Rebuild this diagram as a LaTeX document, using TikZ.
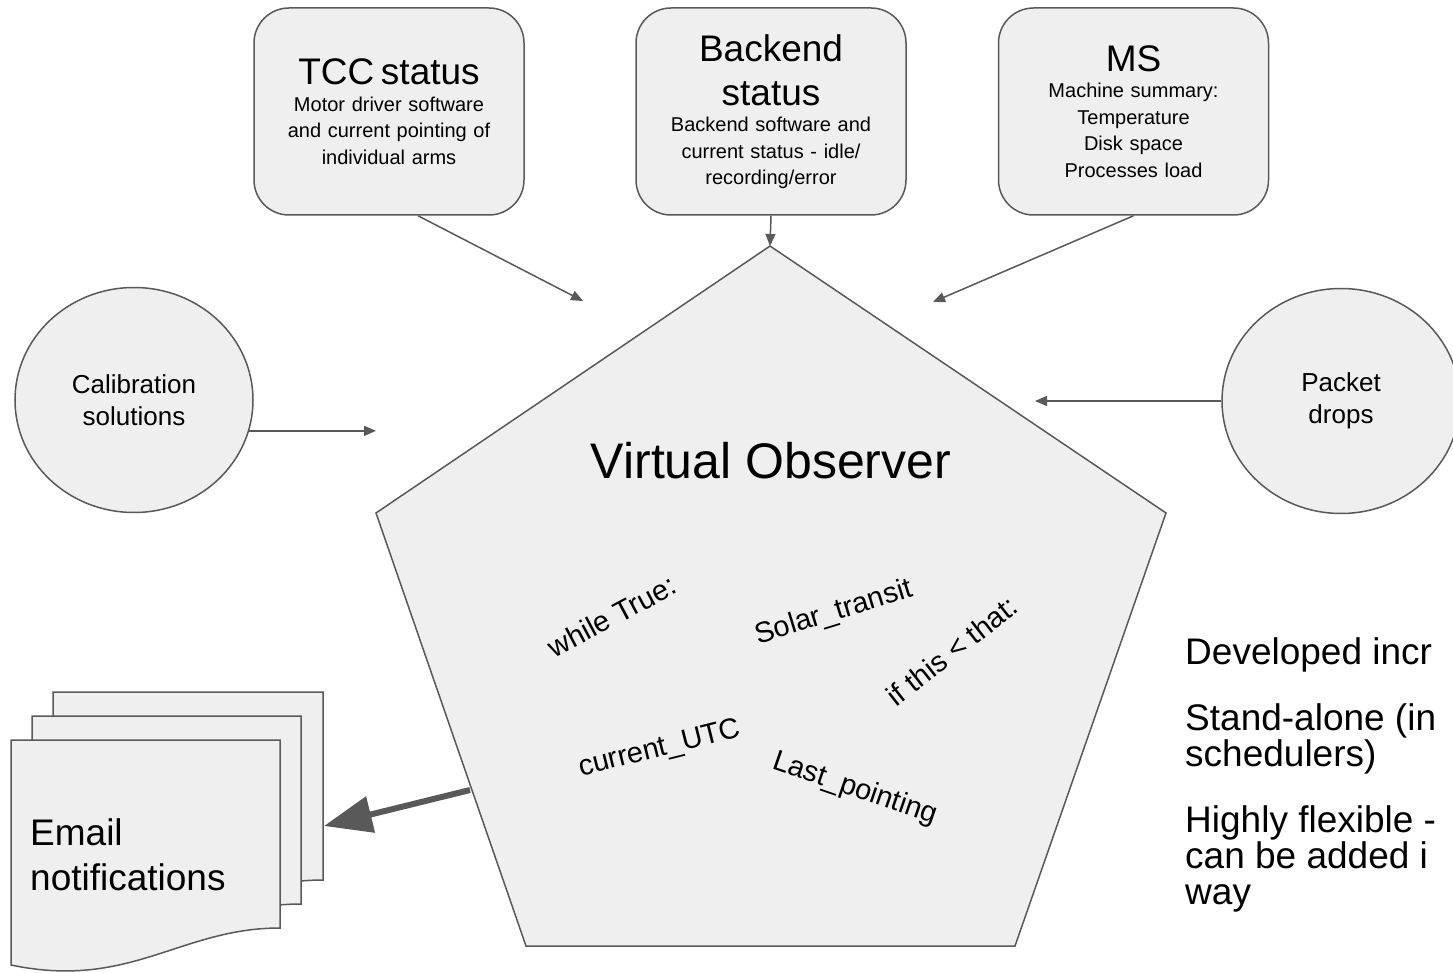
\documentclass[tikz,border=0pt]{standalone}
\usepackage{fontspec}
\setmainfont{Liberation Sans}
\usetikzlibrary{arrows.meta,shapes.geometric}

\definecolor{rim}{HTML}{595959}
\definecolor{pane}{HTML}{EFEFEF}

\newcommand{\boxtitle}[1]{{\fontsize{37}{44}\selectfont #1\par}}

\tikzset{
  box/.style={draw=rim, fill=pane, line width=1.5pt, rounded corners=35pt,
    minimum width=270pt, minimum height=207pt, text width=262pt, inner sep=0pt,
    align=center, font=\fontsize{20}{26.5}\selectfont},
  bubble/.style={ellipse, draw=rim, fill=pane, line width=1.5pt,
    minimum width=238pt, minimum height=225pt, align=center,
    font=\fontsize{26}{32}\selectfont},
  pad/.style={draw=rim, fill=pane, line width=1.5pt, line join=miter},
  sheet/.style={draw=rim, fill=pane, line width=1.5pt},
  link/.style={draw=rim, line width=1.5pt, -{Triangle[length=12pt,width=10pt]}},
  mailto/.style={draw=rim, line width=6pt, -{Triangle[length=48pt,width=36pt]}},
  code/.style={font=\fontsize{29}{33}\selectfont, inner sep=0pt},
}

\begin{document}
\begin{tikzpicture}[x=1pt, y=-1pt]
    \useasboundingbox (0,0) rectangle (1453,973);

    % status boxes
    \node[box] (tcc) at (389,111.5) {\boxtitle{TCC status}Motor driver software\\and current pointing of\\individual arms}; %TCC
    \node[box] (backend) at (771,111.5) {\boxtitle{Backend\\status}Backend software and\\current status - idle/\\recording/error\par\vspace{-6pt}}; %backend
    \node[box] (ms) at (1133.5,111.5) {\boxtitle{MS}Machine summary:\\Temperature\\Disk space\\Processes load\par\vspace{-4pt}}; %MS

    \node[bubble] (calib) at (134,400) {Calibration\\solutions};
    \node[bubble] (packet) at (1341,401) {Packet\\drops};

    % the observer
    \coordinate (pTop) at (770,246);
    \coordinate (pR) at (1166,513);
    \coordinate (pBR) at (1015,946);
    \coordinate (pBL) at (526,946);
    \coordinate (pL) at (376,513);
    \draw[pad] (pTop) -- (pR) -- (pBR) -- (pBL) -- (pL) -- cycle;
    \node[font=\fontsize{50}{60}\selectfont] (vo) at (771,461) {Virtual Observer};

    \node[code, rotate=28] (whileT) at (612,616) {while True:};
    \node[code, rotate=17] (solar) at (834,613) {Solar\_transit};
    \node[code, rotate=38] (ifthis) at (952,651) {if this < that:};
    \node[code, rotate=14] (utc) at (660,749) {current\_UTC};
    \node[code, rotate=-19] (lastp) at (855,789) {Last\_pointing};

    % email stack
    \draw[sheet] (53,692) -- (323,692) -- (323,880) .. controls (223,880) and (173,942) .. (53,917) -- cycle;
    \draw[sheet] (32,716) -- (301,716) -- (301,904) .. controls (201,904) and (151,966) .. (32,941) -- cycle;
    \draw[sheet] (11,740) -- (280,740) -- (280,928) .. controls (180,928) and (130,990) .. (11,965) -- cycle;
    \node[anchor=north west, inner sep=0pt, align=left, font=\fontsize{37}{45}\selectfont] (mail) at (30,818) {Email\\notifications};

    % connectors
    \coordinate (tccIn) at (583,301);
    \coordinate (msIn) at (933,302);
    \coordinate (packetIn) at (1035,401);
    \coordinate (voOut) at (470,790);
    \coordinate (mailIn) at (324,826);
    \draw[link] ([xshift=29pt]tcc.south) -- (tccIn);
    \draw[link] (backend.south) -- (pTop);
    \draw[link] (ms.south) -- (msIn);
    \draw[link] (calib.-15) -- (calib.-15 -| pL);
    \draw[link] (packet.west) -- (packetIn);
    \draw[mailto] (voOut) -- (mailIn);

    % notes on the right
    \node[anchor=north west, inner sep=0pt, align=left, font=\fontsize{37}{36}\selectfont] (notes) at (1185,637) {Developed incr\\[30pt]Stand-alone (in\\schedulers)\\[30pt]Highly flexible -\\can be added i\\way};
\end{tikzpicture}
\end{document}
